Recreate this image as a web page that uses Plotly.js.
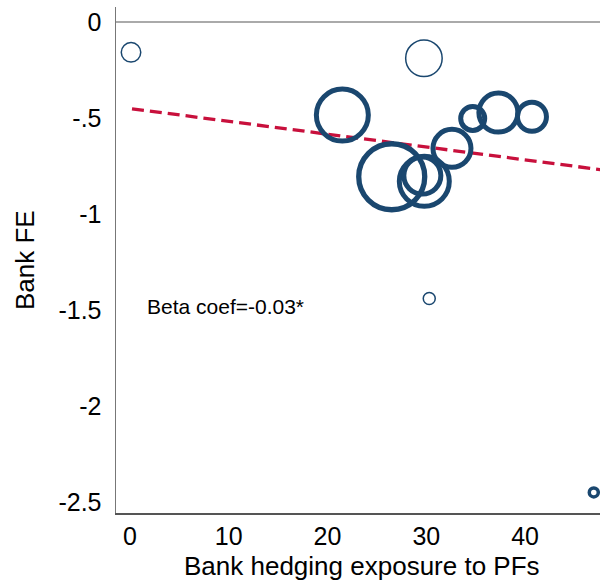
<!DOCTYPE html>
<html>
<head>
<meta charset="utf-8">
<script src="https://cdn.plot.ly/plotly-3.0.1.min.js"></script>
<style>html,body{margin:0;padding:0;overflow:hidden;background:#fff;}</style>
</head>
<body>
<div id="chart" style="width:608px;height:585px;"></div>
<script>
// Bank-level bubbles: hedging exposure (x) vs bank FE (y), bubble weight
const hedgeExposure = [0.1, 29.76, 21.5, 26.5, 29.8, 29.6, 32.6, 34.7, 37.3, 40.7, 30.3, 46.96];
const bankFE = [-0.158, -0.189, -0.485, -0.806, -0.83, -0.80, -0.658, -0.502, -0.472, -0.493, -1.44, -2.45];
const bubbleSize = [19.5, 36.5, 52, 66, 50, 37, 38, 24, 39, 29, 12, 9];
const bubbleLine = [1.5, 1.5, 5, 5.3, 5, 5, 5, 5, 5, 5, 1.5, 3.5];

// Fitted line endpoints
const fitX = [0.2, 48.4];
const fitY = [-0.452, -0.774];

const yTickVals = [0, -0.5, -1, -1.5, -2, -2.5];
const yTickText = ["0", "-.5", "-1", "-1.5", "-2", "-2.5"];
const xTickVals = [0, 10, 20, 30, 40];
const xTickText = ["0", "10", "20", "30", "40"];

const navy = "#1a476f";
const red = "#c8103c";

const traces = [
  {
    x: fitX, y: fitY, type: "scatter", mode: "lines",
    line: {color: red, width: 3.3, dash: "12px,6px"}, hoverinfo: "skip"
  },
  {
    x: hedgeExposure, y: bankFE, type: "scatter", mode: "markers",
    marker: {
      symbol: "circle", size: bubbleSize, color: "rgba(0,0,0,0)", opacity: 1,
      line: {color: navy, width: bubbleLine}
    }
  }
];

const layout = {
  width: 608, height: 585,
  margin: {l: 116, r: 0, t: 7, b: 72},
  paper_bgcolor: "#fff", plot_bgcolor: "#fff",
  showlegend: false,
  font: {family: "Liberation Sans, Arial, sans-serif", color: "#000"},
  xaxis: {
    range: [-1.42, 48.4], tickvals: xTickVals, ticktext: xTickText,
    showgrid: false, zeroline: false, showline: true, linecolor: "#555", linewidth: 1.5,
    ticks: "",
    tickfont: {size: 25, family: "Liberation Sans, Arial, sans-serif"}
  },
  yaxis: {
    range: [-2.557, 0.078], tickvals: yTickVals, ticktext: yTickText,
    showgrid: false, zeroline: true, zerolinecolor: "#aaa", zerolinewidth: 1.5,
    showline: true, linecolor: "#777", linewidth: 1.5,
    ticks: "outside", ticklen: 8, tickcolor: "rgba(0,0,0,0)",
    tickfont: {size: 25, family: "Liberation Sans, Arial, sans-serif"}
  },
  annotations: [
    {text: "Beta coef=-0.03*", x: 1.5, y: -1.484, xref: "x", yref: "y",
     xanchor: "left", yanchor: "middle", showarrow: false,
     font: {size: 21, family: "Liberation Sans, Arial, sans-serif"}},
    {text: "Bank hedging exposure to PFs", showarrow: false,
     font: {size: 26, family: "Liberation Sans, Arial, sans-serif"}},
    {text: "Bank FE", textangle: -90, showarrow: false,
     font: {size: 26, family: "Liberation Sans, Arial, sans-serif"}}
  ]
};

// Convert pixel positions for the title annotations to paper coordinates
const plotW = 608 - 116, plotH = 585 - 7 - 72;
layout.annotations[1].xref = "paper"; layout.annotations[1].yref = "paper";
layout.annotations[1].x = (362 - 116) / plotW;
layout.annotations[1].y = (513 - 583) / plotH;
layout.annotations[1].xanchor = "center"; layout.annotations[1].yanchor = "bottom";
layout.annotations[2].xref = "paper"; layout.annotations[2].yref = "paper";
layout.annotations[2].x = (25 - 116) / plotW;
layout.annotations[2].y = (513 - 260) / plotH;
layout.annotations[2].xanchor = "center"; layout.annotations[2].yanchor = "middle";

Plotly.newPlot("chart", traces, layout, {displayModeBar: false, staticPlot: true});
</script>
</body>
</html>
